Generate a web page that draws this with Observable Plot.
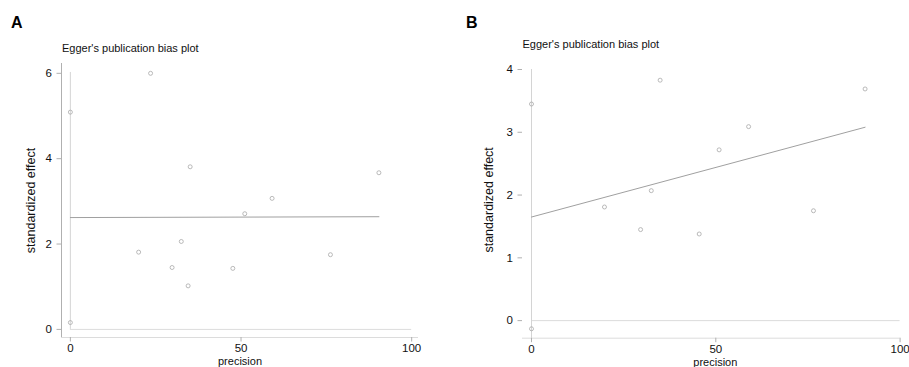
<!DOCTYPE html>
<html>
<head>
<meta charset="utf-8">
<script src="https://cdn.jsdelivr.net/npm/d3@7"></script>
<script src="https://cdn.jsdelivr.net/npm/@observablehq/plot@0.6"></script>
<style>
  html, body { margin: 0; padding: 0; background: #fff; }
  #wrap { position: relative; width: 909px; height: 367px; overflow: hidden; background: #fff; font-family: "Liberation Sans Narrow", "Arial Narrow", "Liberation Sans", Arial, sans-serif; }
  .panel { position: absolute; top: 0; z-index: 1; }
  .letter { position: absolute; z-index: 2; font-family: "Liberation Sans", Arial, sans-serif; font-weight: bold; font-size: 16px; line-height: 16px; color: #000; }
  .title { position: absolute; z-index: 2; font-size: 11px; line-height: 11px; color: #111; white-space: nowrap; }
</style>
</head>
<body>
<div id="wrap">
  <div class="panel" id="pa" style="left:0px;"></div>
  <div class="panel" id="pb" style="left:455px;"></div>
  <div class="letter" style="left:11px; top:15px;">A</div>
  <div class="letter" style="left:466px; top:15px;">B</div>
  <div class="title" style="left:62px; top:43px;">Egger's publication bias plot</div>
  <div class="title" style="left:522.5px; top:39px;">Egger's publication bias plot</div>
</div>
<script>
// ---- Panel A data ----
const precisionA = [0, 23.5, 35.1, 90.4, 59.1, 51.1, 32.5, 20.0, 76.2, 29.8, 47.6, 34.5, 0];
const effectA    = [5.09, 6.0, 3.81, 3.67, 3.07, 2.71, 2.06, 1.81, 1.75, 1.45, 1.43, 1.02, 0.16];
const regLineA_x = [0, 90.4];
const regLineA_y = [2.62, 2.64];
const ciA = [0, 6.02];
// ---- Panel B data ----
const precisionB = [0, 34.9, 90.5, 58.9, 50.9, 32.5, 19.8, 76.5, 29.6, 45.5, 0];
const effectB    = [3.45, 3.83, 3.69, 3.09, 2.72, 2.07, 1.81, 1.75, 1.45, 1.38, -0.13];
const regLineB_x = [0, 90.5];
const regLineB_y = [1.65, 3.08];
const ciB = [-0.28, 4.0];
// ---- tick labels / text ----
const xTicks = [0, 50, 100];
const yTicksA = [0, 2, 4, 6];
const yTicksB = [0, 1, 2, 3, 4];
const xLabel = "precision";
const yLabel = "standardized effect";

const fontFam = '"Liberation Sans Narrow", "Arial Narrow", "Liberation Sans", Arial, sans-serif';

function pts(xs, ys) { return xs.map((x, i) => ({x, y: ys[i]})); }

function panel({xs, ys, regX, regY, ci, xDom, yDom, yTicks, width, mL, mR, mT, mB, yAxisLine, ylDx, ylDy, xlDx}) {
  return Plot.plot({
    width, height: 367,
    marginLeft: mL, marginRight: mR, marginTop: mT, marginBottom: mB,
    style: {fontFamily: fontFam, fontSize: "12px", color: "#111", background: "transparent"},
    x: {domain: xDom},
    y: {domain: yDom},
    marks: [
      yAxisLine ? Plot.ruleX([xDom[0]], {stroke: "#b0b0b0", strokeWidth: 1}) : null,
      Plot.ruleY([yDom[0]], {stroke: "#dcdcdc", strokeWidth: 1}),
      Plot.ruleY([0], {x1: 0, x2: 100, stroke: "#dcdcdc", strokeWidth: 1}),
      Plot.ruleX([0], {y1: ci[0], y2: ci[1], stroke: "#d4d4d4", strokeWidth: 1}),
      Plot.line(pts(regX, regY), {x: "x", y: "y", stroke: "#a0a0a0", strokeWidth: 1}),
      Plot.dot(pts(xs, ys), {x: "x", y: "y", r: 2, stroke: "#a8a8a8", strokeWidth: 0.8, fill: "none"}),
      Plot.axisX({ticks: xTicks, tickSize: 4.5, tickPadding: 2, stroke: "#b0b0b0", label: null, fontSize: 11.5, tickFormat: d3.format("d")}),
      Plot.axisY({ticks: yTicks, tickSize: 4.5, tickPadding: 5, stroke: "#b0b0b0", label: null, fontSize: 11.5, tickFormat: d3.format("d")}),
      Plot.text([xLabel], {frameAnchor: "bottom", dy: 24, dx: xlDx, fontSize: 11, lineAnchor: "middle", fill: "#111"}),
      Plot.text([yLabel], {frameAnchor: "left", rotate: -90, dx: ylDx, dy: ylDy, fontSize: 12.5, lineAnchor: "middle", textAnchor: "middle", fill: "#111"})
    ]
  });
}

document.getElementById("pa").appendChild(panel({
  xs: precisionA, ys: effectA, regX: regLineA_x, regY: regLineA_y, ci: ciA,
  xDom: [-2.6, 102], yDom: [-0.19, 6.23], yTicks: yTicksA,
  width: 450, mL: 61, mR: 32, mT: 63, mB: 30, yAxisLine: true, ylDx: -31, ylDy: 0, xlDx: 0
}));
document.getElementById("pb").appendChild(panel({
  xs: precisionB, ys: effectB, regX: regLineB_x, regY: regLineB_y, ci: ciB,
  xDom: [-2.44, 100], yDom: [-0.28, 4.0], yTicks: yTicksB,
  width: 454, mL: 67, mR: 9.4, mT: 69, mB: 29.3, yAxisLine: false, ylDx: -34, ylDy: -4, xlDx: 4
}));
</script>
</body>
</html>
